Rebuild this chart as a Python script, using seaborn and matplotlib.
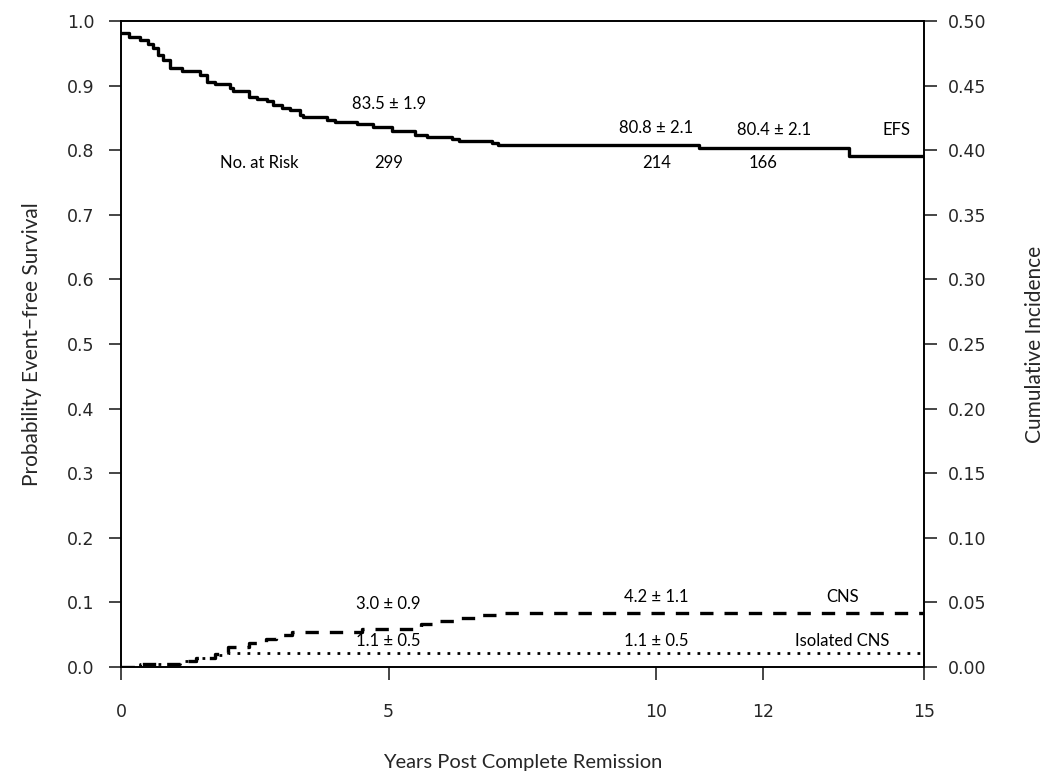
import numpy as np
import pandas as pd
import matplotlib
matplotlib.use("Agg")
import matplotlib.pyplot as plt
import seaborn as sns

# Event-free survival (step function, value after each event time)
efs_time = [0, 0.15, 0.35, 0.5, 0.6, 0.7, 0.78, 0.91, 1.14, 1.47, 1.6, 1.75,
            2.03, 2.1, 2.4, 2.55, 2.72, 2.84, 3.0, 3.15, 3.34, 3.4, 3.84, 4.0,
            4.4, 4.7, 5.06, 5.49, 5.71, 6.18, 6.32, 6.94, 7.05, 10.8, 13.6, 15]
efs_prob = [0.981, 0.976, 0.970, 0.965, 0.958, 0.948, 0.940, 0.927, 0.923, 0.916,
            0.906, 0.903, 0.896, 0.892, 0.883, 0.880, 0.876, 0.870, 0.866, 0.862,
            0.854, 0.851, 0.847, 0.843, 0.840, 0.836, 0.830, 0.824, 0.820, 0.817,
            0.814, 0.812, 0.808, 0.804, 0.791, 0.791]

# Cumulative incidence of CNS relapse (any)
cns_time = [0, 0.35, 1.1, 1.4, 1.75, 2.0, 2.4, 2.7, 2.9, 3.2, 4.5, 5.6, 5.95,
            6.35, 6.65, 7.0, 15]
cns_ci = [0.0, 0.002, 0.0046, 0.0072, 0.0103, 0.0157, 0.0183, 0.0214, 0.025,
          0.0273, 0.0294, 0.033, 0.0356, 0.0377, 0.0405, 0.042, 0.042]

# Cumulative incidence of isolated CNS relapse
iso_time = [0, 0.35, 1.1, 1.4, 1.8, 2.0, 15]
iso_ci = [0.0, 0.002, 0.0046, 0.0072, 0.009, 0.011, 0.011]

x_ticks = [0, 5, 10, 12, 15]
at_risk_time = [5, 10, 12]
at_risk_n = ["299", "214", "166"]

efs_df = pd.DataFrame({"t": efs_time, "p": efs_prob})
cns_df = pd.DataFrame({"t": cns_time, "ci": cns_ci})
iso_df = pd.DataFrame({"t": iso_time, "ci": iso_ci})

sns.set_style("ticks")
plt.rcParams["font.family"] = ["Lato", "DejaVu Sans"]

fig = plt.figure(figsize=(10.5, 7.81), dpi=100)
ax = fig.add_axes([0.1152, 0.146, 0.7648, 0.827])
ax2 = ax.twinx()

sns.lineplot(data=efs_df, x="t", y="p", ax=ax, color="black", lw=2.4,
             drawstyle="steps-post", estimator=None, sort=False)
sns.lineplot(data=cns_df, x="t", y="ci", ax=ax2, color="black", lw=2.4,
             drawstyle="steps-post", estimator=None, sort=False,
             linestyle=(0, (4, 3.3)))
sns.lineplot(data=iso_df, x="t", y="ci", ax=ax2, color="black", lw=2.0,
             drawstyle="steps-post", estimator=None, sort=False,
             linestyle=(0, (1, 2.6)))

ax.set_xlim(0, 15)
ax.set_ylim(0, 1.0)
ax2.set_ylim(0, 0.5)
ax.set_xticks(x_ticks)
ax.set_yticks(np.arange(0, 1.01, 0.1))
ax.set_yticklabels([f"{v:.1f}" for v in np.arange(0, 1.01, 0.1)])
ax2.set_yticks(np.arange(0, 0.501, 0.05))
ax2.set_yticklabels([f"{v:.2f}" for v in np.arange(0, 0.501, 0.05)])

for lab in ax.get_xticklabels() + ax.get_yticklabels() + ax2.get_yticklabels():
    lab.set_fontfamily("DejaVu Sans")
    lab.set_fontsize(12.5)

ax.tick_params(axis="x", length=9, width=1.2, pad=17)
ax.tick_params(axis="y", length=9, width=1.2, pad=10)
ax2.tick_params(axis="y", length=9, width=1.2, pad=8)
for a in (ax, ax2):
    for s in a.spines.values():
        s.set_visible(True)
        s.set_linewidth(1.2)
        s.set_color("black")

ax.set_xlabel("Years Post Complete Remission", fontsize=14.5, labelpad=24)
ax.set_ylabel("Probability Event\u2212free Survival", fontsize=15, labelpad=18)
ax2.set_ylabel("Cumulative Incidence", fontsize=15, labelpad=28)

txt = dict(ha="center", va="center", fontsize=12, color="black")
ax.text(5, 0.871, "83.5 \u00b1 1.9", **txt)
ax.text(10, 0.834, "80.8 \u00b1 2.1", **txt)
ax.text(12.2, 0.831, "80.4 \u00b1 2.1", **txt)
ax.text(14.48, 0.831, "EFS", **txt)
ax.text(2.59, 0.780, "No. at Risk", **txt)
for t, n in zip(at_risk_time, at_risk_n):
    ax.text(t, 0.780, n, **txt)
ax.text(5, 0.0975, "3.0 \u00b1 0.9", **txt)
ax.text(5, 0.040, "1.1 \u00b1 0.5", **txt)
ax.text(10, 0.108, "4.2 \u00b1 1.1", **txt)
ax.text(10, 0.040, "1.1 \u00b1 0.5", **txt)
ax.text(13.47, 0.108, "CNS", **txt)
ax.text(13.47, 0.040, "Isolated CNS", **txt)

fig.savefig("out.png", dpi=100)
